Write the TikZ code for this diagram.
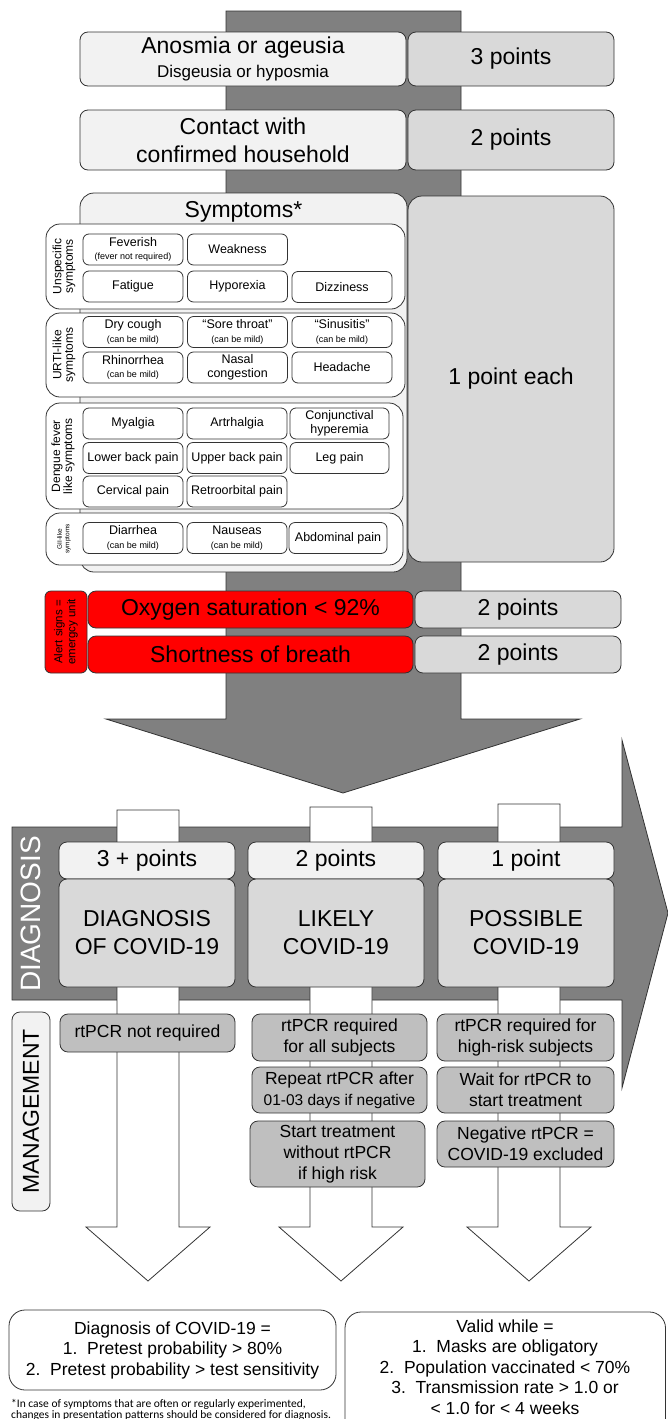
\documentclass[tikz,border=0pt]{standalone}
\usepackage{fontspec}
\setmainfont{Liberation Sans}
\newfontfamily\notefont{Carlito}
\usepackage{xcolor}
\usepackage{tikz}

\definecolor{shaftgray}{HTML}{808080}
\definecolor{boxlight}{HTML}{F2F2F2}
\definecolor{boxmid}{HTML}{D9D9D9}
\definecolor{boxdark}{HTML}{BFBFBF}
\definecolor{alertred}{HTML}{FF0000}

\newcommand{\subtxt}[1]{{\fontsize{9}{10.5}\selectfont #1}}

\tikzset{
  box/.style={draw=black!80, line width=0.8pt, rounded corners=8pt, inner sep=0pt, align=center},
  crit/.style={box, fill=boxlight, font=\fontsize{23}{27.6}\selectfont},
  pts/.style={box, fill=boxmid, font=\fontsize{23}{27.6}\selectfont},
  group/.style={box, fill=white, rounded corners=14pt},
  sym/.style={box, fill=white, rounded corners=6pt, minimum width=100pt, minimum height=31pt, font=\fontsize{12.5}{13.5}\selectfont},
  grouplbl/.style={rotate=90, align=center, inner sep=0pt, font=\fontsize{12}{11.5}\selectfont},
  alert/.style={box, fill=alertred, font=\fontsize{23}{27.6}\selectfont},
  hdr/.style={box, fill=boxlight, minimum width=176pt, minimum height=37pt, font=\fontsize{23}{27.6}\selectfont},
  diag/.style={box, fill=boxmid, minimum width=176pt, minimum height=108pt, font=\fontsize{23}{28}\selectfont},
  mgmt/.style={box, fill=boxdark, font=\fontsize{17.5}{21}\selectfont},
  bignote/.style={box, fill=white, rounded corners=16pt},
  bigarrow/.style={draw=black!80, line width=0.8pt, fill=shaftgray},
  openarrow/.style={draw=black!80, line width=0.8pt, fill=white}
}

\begin{document}
\begin{tikzpicture}[x=1pt, y=-1pt]
		\useasboundingbox (0,0) rectangle (667,1419);
		% Big arrows behind everything
		\draw[bigarrow] (226,11) -- (461,11) -- (461,719) -- (580,719) -- (343,793) -- (106,719) -- (226,719) -- cycle;
		\draw[bigarrow] (12,827) -- (622,827) -- (622,740) -- (668,913) -- (622,1088) -- (622,1000) -- (12,1000) -- cycle;
		\foreach \cx/\top in {148/810, 341/807, 529/804}
			\draw[openarrow] ({\cx-31},\top) -- ({\cx+31},\top) -- ({\cx+31},1227) -- ({\cx+62},1227)
				-- (\cx,1281) -- ({\cx-62},1227) -- ({\cx-31},1227) -- cycle;
		%
		% Criteria and points
		\node[crit, minimum width=326pt, minimum height=54pt] (anosmia) at (243,59) {Anosmia or ageusia\\[-3pt]{\fontsize{17}{20}\selectfont Disgeusia or hyposmia}};
		\node[pts, minimum width=206pt, minimum height=54pt] (pts3) at (511,59) {3 points};
		\node[crit, minimum width=326pt, minimum height=60pt] (contact) at (243,140) {Contact with\\confirmed household};
		\node[pts, minimum width=206pt, minimum height=60pt] (pts2) at (511,140) {2 points};
		%
		\node[box, fill=boxlight, rounded corners=14pt, minimum width=327pt, minimum height=379pt] (symptoms) at (243.5,382.5) {};
		\node[font=\fontsize{23}{27.6}\selectfont, inner sep=0pt] (symtitle) at (243.5,212) {Symptoms*};
		\node[pts, rounded corners=14pt, minimum width=206pt, minimum height=366pt] (each) at (511,379) {1 point each};
		%
		%% Unspecific symptoms
		\node[group, minimum width=359pt, minimum height=85pt] (unspec) at (225.5,266.5) {};
		\node[grouplbl] (unspeclbl) at (64,266.5) {Unspecific\\symptoms};
		\node[sym] (feverish) at (133,249.5) {Feverish\\\subtxt{(fever not required)}};
		\node[sym] (weakness) at (237.5,249.5) {Weakness};
		\node[sym] (fatigue) at (133,286.5) {Fatigue}; \node[sym] (hyporexia) at (237.5,286.5) {Hyporexia};
		\node[sym] (dizziness) at (342,287) {Dizziness};
		%% URTI-like symptoms
		\node[group, minimum width=359pt, minimum height=84pt] (urti) at (225.5,355) {};
		\node[grouplbl] (urtilbl) at (64,355) {URTI-like\\symptoms};
		\node[sym] (drycough) at (133,332) {Dry cough\\\subtxt{(can be mild)}};
		\node[sym] (throat) at (237.5,332) {``Sore throat''\\\subtxt{(can be mild)}};
		\node[sym] (sinusitis) at (342,332) {``Sinusitis''\\\subtxt{(can be mild)}};
		\node[sym] (rhino) at (133,367.5) {Rhinorrhea\\\subtxt{(can be mild)}};
		\node[sym] (nasal) at (237.5,367.5) {Nasal\\congestion};
		\node[sym] (headache) at (342,367.5) {Headache};
		%% Dengue fever like symptoms
		\node[group, minimum width=357pt, minimum height=106pt] (dengue) at (224.5,456) {};
		\node[grouplbl, font=\fontsize{12}{12}\selectfont] (denguelbl) at (63,456) {Dengue fever\\like symptoms};
		\node[sym] (myalgia) at (133,423.5) {Myalgia}; \node[sym] (arthralgia) at (237,423.5) {Artrhalgia};
		\node[sym, minimum width=99pt] (conjunct) at (339.5,423.5) {Conjunctival\\hyperemia};
		\node[sym] (lowback) at (133,458) {Lower back pain}; \node[sym] (upback) at (237,458) {Upper back pain};
		\node[sym, minimum width=99pt] (leg) at (339.5,458) {Leg pain};
		\node[sym] (cervical) at (133,491.5) {Cervical pain}; \node[sym] (retro) at (237,491.5) {Retroorbital pain};
		%% GII-like symptoms
		\node[group, minimum width=357pt, minimum height=52pt] (gi) at (224.5,539) {};
		\node[grouplbl, font=\fontsize{6.5}{7.5}\selectfont] (gilbl) at (64,539) {GII-like\\symptoms};
		\node[sym] (diarrhea) at (133,538) {Diarrhea\\\subtxt{(can be mild)}};
		\node[sym] (nauseas) at (237,538) {Nauseas\\\subtxt{(can be mild)}};
		\node[sym, minimum width=98pt] (abdominal) at (338,538) {Abdominal pain};
		%
		% Alert signs
		\node[alert, rounded corners=6pt, minimum width=42pt, minimum height=82pt] (alertlbl) at (66,632) {};
		\node[grouplbl, font=\fontsize{11.5}{13}\selectfont] (alerttxt) at (66,632) {Alert signs =\\emergcy unit};
		\node[alert, minimum width=325pt, minimum height=37pt] (oxygen) at (250.5,609.5) {Oxygen saturation < 92\%};
		\node[alert, minimum width=325pt, minimum height=37pt] (breath) at (250.5,654.5) {Shortness of breath};
		\node[pts, minimum width=206pt, minimum height=37pt] (ptsox) at (518,609.5) {2 points};
		\node[pts, minimum width=206pt, minimum height=37pt] (ptsbr) at (518,654.5) {2 points};
		%
		% Diagnosis
		\node[rotate=90, text=white, inner sep=0pt, font=\fontsize{28}{30}\selectfont] (diaglbl) at (31,914) {DIAGNOSIS};
		\node[hdr] (hdr1) at (147,860.5) {3 + points}; \node[hdr] (hdr2) at (336,860.5) {2 points};
		\node[hdr] (hdr3) at (526,860.5) {1 point};
		\node[diag] (dg1) at (147,933) {DIAGNOSIS\\OF COVID-19};
		\node[diag] (dg2) at (336,933) {LIKELY\\COVID-19};
		\node[diag] (dg3) at (526,933) {POSSIBLE\\COVID-19};
		%
		% Management
		\node[box, fill=boxlight, minimum width=38pt, minimum height=199pt] (mglbl) at (31,1111.5) {};
		\node[rotate=90, inner sep=0pt, font=\fontsize{23}{25}\selectfont] (mgtxt) at (31,1111.5) {MANAGEMENT};
		\node[mgmt, minimum width=175pt, minimum height=38pt] (m1) at (147.5,1033) {rtPCR not required};
		\node[mgmt, minimum width=175pt, minimum height=47pt] (m2a) at (339.5,1037.5) {rtPCR required\\for all subjects};
		\node[mgmt, minimum width=175pt, minimum height=46pt] (m2b) at (339.5,1090) {Repeat rtPCR after\\{\fontsize{15.5}{18}\selectfont 01-03 days if negative}};
		\node[mgmt, minimum width=175pt, minimum height=66pt] (m2c) at (337.5,1154) {Start treatment\\without rtPCR\\if high risk};
		\node[mgmt, minimum width=177pt, minimum height=47pt] (m3a) at (525.5,1037.5) {rtPCR required for\\high-risk subjects};
		\node[mgmt, minimum width=177pt, minimum height=46pt] (m3b) at (525.5,1090) {Wait for rtPCR to\\start treatment};
		\node[mgmt, minimum width=177pt, minimum height=46pt] (m3c) at (525.5,1144) {Negative rtPCR =\\COVID-19 excluded};
		%
		% Notes at the bottom
		\node[bignote, minimum width=327pt, minimum height=80pt, font=\fontsize{17.5}{20.5}\selectfont] (diagnote) at (172.5,1350)
			{Diagnosis of COVID-19 =\\1.\ \ Pretest probability > 80\%\\2.\ \ Pretest probability > test sensitivity};
		\node[bignote, minimum width=320.5pt, minimum height=128pt] (validbox) at (505.25,1376) {};
		\node[align=center, inner sep=0pt, font=\fontsize{17.5}{20.5}\selectfont] (validtxt) at (505,1367)
			{Valid while =\\1.\ \ Masks are obligatory\\2.\ \ Population vaccinated < 70\%\\3.\ \ Transmission rate > 1.0 or\\< 1.0 for < 4 weeks};
		\node[anchor=north west, align=left, inner sep=0pt, font=\notefont\fontsize{11.5}{11.5}\selectfont] (footnote) at (11,1399)
			{*In case of symptoms that are often or regularly experimented,\\changes in presentation patterns should be considered for diagnosis.};
	\end{tikzpicture}
\end{document}
